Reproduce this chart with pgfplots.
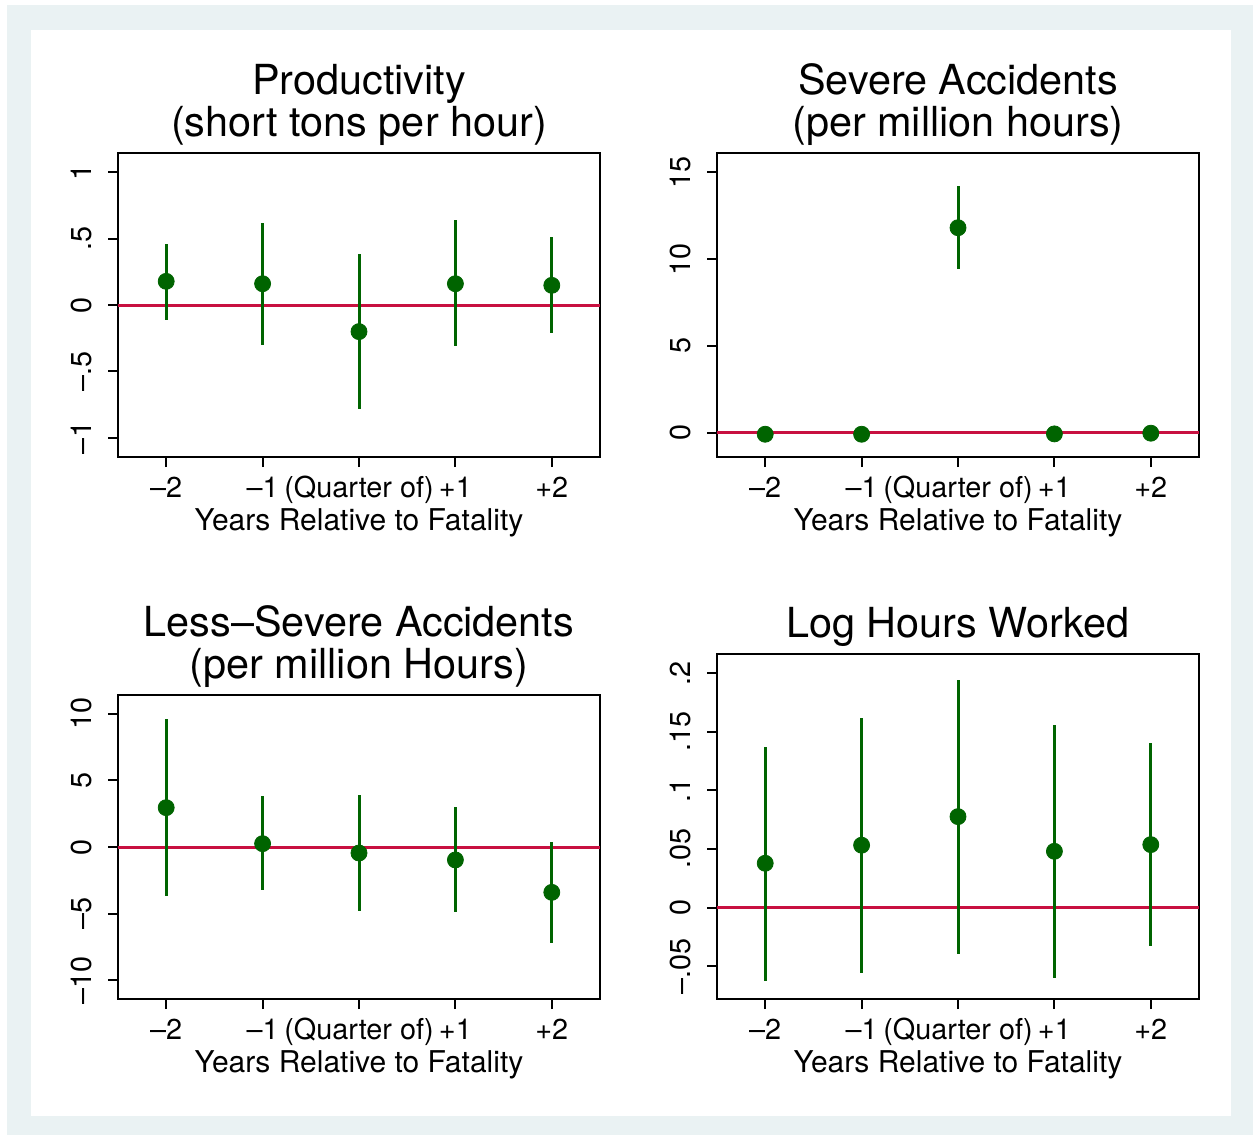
\documentclass[border=0pt]{standalone}
\usepackage{pgfplots}
\usepackage{pgfplotstable}
\pgfplotsset{compat=1.18}
\usepackage{fontspec}
\setmainfont{TeX Gyre Heros}
\definecolor{bgblue}{RGB}{234,242,243}
\definecolor{dkgreen}{RGB}{0,100,0}
\definecolor{zred}{RGB}{200,16,64}

\pgfplotstableread{
x y lo hi
-2 0.178 -0.11 0.46
-1 0.160 -0.30 0.62
0 -0.200 -0.78 0.38
1 0.160 -0.31 0.64
2 0.148 -0.21 0.51
}\prodtab
\pgfplotstableread{
x y lo hi
-2 -0.08 -0.25 0.10
-1 -0.08 -0.25 0.10
0 11.80 9.45 14.20
1 -0.06 -0.23 0.12
2 -0.02 -0.19 0.15
}\sevtab
\pgfplotstableread{
x y lo hi
-2 2.95 -3.70 9.60
-1 0.25 -3.25 3.80
0 -0.45 -4.83 3.92
1 -0.97 -4.90 2.97
2 -3.40 -7.20 0.35
}\lesstab
\pgfplotstableread{
x y lo hi
-2 0.0378 -0.0625 0.137
-1 0.0532 -0.0554 0.162
0 0.0776 -0.0395 0.194
1 0.0480 -0.0597 0.156
2 0.0537 -0.0327 0.140
}\hourstab

\pgfplotsset{
  stata/.style={
    scale only axis, width=241pt, height=152pt,
    xmin=-2.5, xmax=2.5,
    xtick={-2,-1,0,1,2},
    xticklabels={–2,–1,(Quarter of),+1,+2},
    axis line style={line width=1pt},
    every tick/.style={line width=1pt, black},
    tick align=outside, major tick length=5pt,
    xtick pos=lower, ytick pos=left,
    tick label style={font=\fontsize{14.4}{17}\selectfont},
    xticklabel style={anchor=base, inner sep=0pt, yshift=-15pt},
    yticklabel style={xshift=-8pt, rotate=90, anchor=south, inner sep=0pt},
    xlabel={Years Relative to Fatality},
    xlabel style={font=\fontsize{15}{17}\selectfont, at={(axis description cs:0.5,0)}, anchor=base, inner sep=0pt, yshift=-36.5pt},
    title style={font=\fontsize{20.7}{21}\selectfont, align=center, at={(axis description cs:0.5,1)}, anchor=south, inner sep=0pt, text depth=0pt, yshift=2pt},
    clip=true,
  },
  ci/.style={only marks, mark=none, error bars/.cd, y dir=both, y explicit, error mark=none,
    error bar style={line width=1.5pt, draw=dkgreen, solid}},
  pt/.style={only marks, mark=*, mark size=4pt, mark options={fill=dkgreen, draw=dkgreen}},
  zline/.style={zred, line width=1.5pt, mark=none},
}

\begin{document}
\begin{tikzpicture}
\path[use as bounding box] (0,0) rectangle (626.5pt,-567.5pt);
\fill[white] (0,0) rectangle (626.5pt,-567.5pt);
\fill[bgblue] (3.5pt,-2.5pt) rectangle (626.5pt,-567.5pt);
\fill[white] (15.5pt,-15pt) rectangle (615.5pt,-558pt);

% Top left
\begin{axis}[stata, at={(59pt,-228.5pt)}, anchor=south west,
  ymin=-1.143, ymax=1.143,
  ytick={-1,-0.5,0,0.5,1}, yticklabels={–1,–.5,0,.5,1},
  title={Productivity\\(short tons per hour)}]
\addplot[zline] coordinates {(-2.5,0) (2.5,0)};
\addplot[ci] table[x=x, y=y, y error plus expr=\thisrow{hi}-\thisrow{y}, y error minus expr=\thisrow{y}-\thisrow{lo}] {\prodtab};
\addplot[pt] table[x=x, y=y] {\prodtab};
\end{axis}

% Top right
\begin{axis}[stata, at={(358.5pt,-228.5pt)}, anchor=south west,
  ymin=-1.39, ymax=16.1,
  ytick={0,5,10,15}, yticklabels={0,5,10,15},
  title={Severe Accidents\\(per million hours)}]
\addplot[zline] coordinates {(-2.5,0) (2.5,0)};
\addplot[ci] table[x=x, y=y, y error plus expr=\thisrow{hi}-\thisrow{y}, y error minus expr=\thisrow{y}-\thisrow{lo}] {\sevtab};
\addplot[pt] table[x=x, y=y] {\sevtab};
\end{axis}

% Bottom left
\begin{axis}[stata, at={(59pt,-499.5pt)}, anchor=south west,
  ymin=-11.4, ymax=11.4,
  ytick={-10,-5,0,5,10}, yticklabels={–10,–5,0,5,10},
  title={Less–Severe Accidents\\(per million Hours)}]
\addplot[zline] coordinates {(-2.5,0) (2.5,0)};
\addplot[ci] table[x=x, y=y, y error plus expr=\thisrow{hi}-\thisrow{y}, y error minus expr=\thisrow{y}-\thisrow{lo}] {\lesstab};
\addplot[pt] table[x=x, y=y] {\lesstab};
\end{axis}

% Bottom right
\begin{axis}[stata, at={(358.5pt,-499.5pt)}, anchor=south west, height=172.5pt,
  ymin=-0.078, ymax=0.2163,
  ytick={-0.05,0,0.05,0.1,0.15,0.2}, yticklabels={–.05,0,.05,.1,.15,.2},
  title={Log Hours Worked}]
\addplot[zline] coordinates {(-2.5,0) (2.5,0)};
\addplot[ci] table[x=x, y=y, y error plus expr=\thisrow{hi}-\thisrow{y}, y error minus expr=\thisrow{y}-\thisrow{lo}] {\hourstab};
\addplot[pt] table[x=x, y=y] {\hourstab};
\end{axis}
\end{tikzpicture}
\end{document}
